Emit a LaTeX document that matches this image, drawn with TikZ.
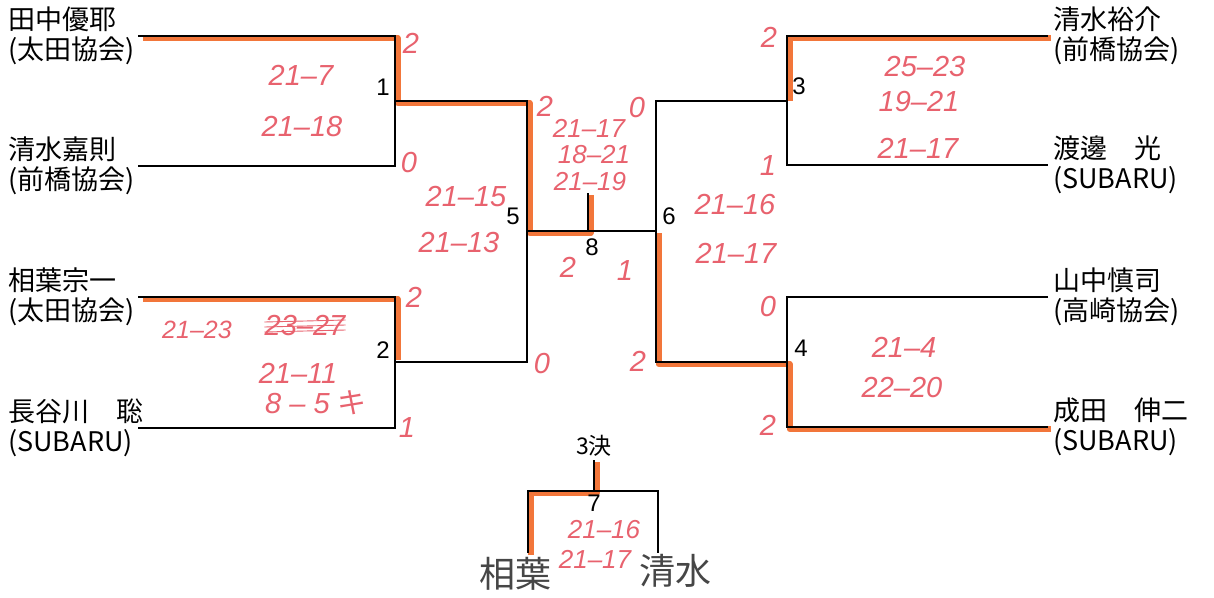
\documentclass[tikz,border=0pt]{standalone}
\usepackage{fontspec}
\setmainfont{Liberation Sans}
\newfontfamily\jpfont{Noto Sans CJK JP}
\newfontfamily\handfont{Liberation Sans}

\definecolor{hlorange}{RGB}{242,118,58}
\definecolor{penred}{RGB}{232,98,110}
\definecolor{pencil}{RGB}{70,70,70}

\tikzset{
  playername/.style={anchor=west, align=left, inner sep=0pt,
    font=\jpfont\fontsize{27}{30}\selectfont},
  matchno/.style={inner sep=0pt, font=\fontsize{24}{24}\selectfont},
  score/.style={inner sep=0pt, text=penred,
    font=\handfont\itshape\fontsize{29}{29}\selectfont},
  bracket/.style={line width=1.4pt, black},
  hilite/.style={line width=6pt, hlorange, line join=round,
    transform canvas={xshift=2.5pt, yshift=-2pt}},
}

\begin{document}
\begin{tikzpicture}[x=1pt, y=-1pt]
  \useasboundingbox[fill=white] (0,0) rectangle (1214,597);

  % Line ends, left half
  \coordinate (a1) at (138,36);  \coordinate (a2) at (138,166);
  \coordinate (a3) at (138,297); \coordinate (a4) at (138,428);
  \coordinate (m1t) at (395,36);  \coordinate (m1b) at (395,166);  \coordinate (m1) at (395,101);
  \coordinate (m2t) at (395,297); \coordinate (m2b) at (395,428);  \coordinate (m2) at (395,362);
  \coordinate (m5t) at (527,101); \coordinate (m5b) at (527,362);  \coordinate (m5) at (527,231);
  % Line ends, right half
  \coordinate (b1) at (1048,36);  \coordinate (b2) at (1048,165);
  \coordinate (b3) at (1048,297); \coordinate (b4) at (1048,427);
  \coordinate (m3t) at (787,36);  \coordinate (m3b) at (787,165);  \coordinate (m3) at (787,101);
  \coordinate (m4t) at (787,297); \coordinate (m4b) at (787,427);  \coordinate (m4) at (787,362);
  \coordinate (m6t) at (656,101); \coordinate (m6b) at (656,362);  \coordinate (m6) at (656,231);
  % Final and third place
  \coordinate (m8) at (588,231);  \coordinate (champ) at (588,193);
  \coordinate (m7) at (594,491);  \coordinate (m7top) at (594,460);
  \coordinate (m7l) at (528,491); \coordinate (m7r) at (658,491);
  \coordinate (m7lb) at (528,553); \coordinate (m7rb) at (658,553);

  % Winner paths (marker pen)
  \draw[hilite] ([xshift=2pt]a1) -- (m1t) -- (m1) -- (m5t) -- (m5) -- (m8) -- (champ);
  \draw[hilite] ([xshift=2pt]a3) -- (m2t) -- ([yshift=4pt]m2);
  \draw[hilite] (b1) -- (m3t) -- ([yshift=2pt]m3);
  \draw[hilite] (b4) -- (m4b) -- (m4) -- (m6b) -- (m6);
  \draw[hilite] (m7lb) -- (m7l) -- (m7) -- (m7top);

  % Bracket lines
  \draw[bracket] (a1) -- (m1t) -- (m1b) -- (a2);
  \draw[bracket] (a3) -- (m2t) -- (m2b) -- (a4);
  \draw[bracket] (m1) -- (m5t) -- (m5b) -- (m2);
  \draw[bracket] (b1) -- (m3t) -- (m3b) -- (b2);
  \draw[bracket] (b3) -- (m4t) -- (m4b) -- (b4);
  \draw[bracket] (m3) -- (m6t) -- (m6b) -- (m4);
  \draw[bracket] (m5) -- (m6);
  \draw[bracket] (m8) -- (champ);
  \draw[bracket] (m7lb) -- (m7l) -- (m7r) -- (m7rb);
  \draw[bracket] (m7) -- (m7top);

  % Players
  \node[playername] (tanaka)   at (8,36)  {田中優耶\\(太田協会)};
  \node[playername] (yoshi)    at (8,166) {清水嘉則\\(前橋協会)};
  \node[playername] (aiba)     at (8,297) {相葉宗一\\(太田協会)};
  \node[playername] (hasegawa) at (8,428) {長谷川　聡\\(SUBARU)};
  \node[playername] (yusuke)   at (1053,36)  {清水裕介\\(前橋協会)};
  \node[playername] (watanabe) at (1053,165) {渡邊　光\\(SUBARU)};
  \node[playername] (yamanaka) at (1053,297) {山中慎司\\(高崎協会)};
  \node[playername] (narita)   at (1053,427) {成田　伸二\\(SUBARU)};

  % Match numbers
  \node[matchno] (n1) at (383,87)  {1};
  \node[matchno] (n2) at (383,350) {2};
  \node[matchno] (n3) at (799,86)  {3};
  \node[matchno] (n4) at (801,348) {4};
  \node[matchno] (n5) at (513,216) {5};
  \node[matchno] (n6) at (669,216) {6};
  \node[matchno] (n7) at (594,503) {7};
  \node[matchno] (n8) at (592,247) {8};
  \node[matchno, font=\jpfont\fontsize{23}{23}\selectfont] (third) at (594,446) {3決};

  % Scores, match 1
  \node[score] (s1w) at (411,43)  {2};
  \node[score] (s1a) at (301,75)  {21–7};
  \node[score] (s1b) at (302,127) {21–18};
  \node[score] (s1l) at (409,163) {0};
  % Scores, match 2
  \node[score] (s2w) at (414,297) {2};
  \node[score, font=\handfont\itshape\fontsize{25}{25}\selectfont] (s2a) at (197,330) {21–23};
  \node[score] (s2x) at (305,326) {23–27};
  \draw[penred, line width=0.9pt] ([yshift=4pt]s2x.west) -- ([yshift=6pt]s2x.east);
  \draw[penred, line width=0.9pt] ([yshift=-1pt]s2x.west) -- ([yshift=1pt]s2x.east);
  \draw[penred, line width=0.9pt] ([yshift=-6pt]s2x.west) -- ([yshift=-4pt]s2x.east);
  \node[score] (s2b) at (298,373) {21–11};
  \node[score] (s2c) at (316,403) {8 – 5 {\jpfont キ}};
  \node[score] (s2l) at (407,428) {1};
  % Scores, match 5
  \node[score] (s5w) at (545,106) {2};
  \node[score] (s5a) at (466,197) {21–15};
  \node[score] (s5b) at (459,243) {21–13};
  \node[score] (s5l) at (542,364) {0};
  % Scores, final
  \node[score] (s8l) at (637,108) {0};
  \node[score, font=\handfont\itshape\fontsize{26}{26}\selectfont] (s8a) at (589,128) {21–17};
  \node[score, font=\handfont\itshape\fontsize{26}{26}\selectfont] (s8b) at (594,155) {18–21};
  \node[score, font=\handfont\itshape\fontsize{26}{26}\selectfont] (s8c) at (590,182) {21–19};
  \node[score] (s8w) at (568,267) {2};
  \node[score] (s8r) at (625,271) {1};
  % Scores, match 6
  \node[score] (s6l) at (768,166) {1};
  \node[score] (s6a) at (735,205) {21–16};
  \node[score] (s6b) at (736,253) {21–17};
  \node[score] (s6z) at (768,307) {0};
  \node[score] (s6w) at (638,361) {2};
  % Scores, match 3
  \node[score] (s3w) at (769,37)  {2};
  \node[score] (s3a) at (925,67)  {25–23};
  \node[score] (s3b) at (919,102) {19–21};
  \node[score] (s3c) at (918,148) {21–17};
  % Scores, match 4
  \node[score] (s4a) at (904,347) {21–4};
  \node[score] (s4b) at (902,388) {22–20};
  \node[score] (s4w) at (768,425) {2};
  % Scores, match 7
  \node[score, font=\handfont\itshape\fontsize{26}{26}\selectfont] (s7a) at (604,530) {21–16};
  \node[score, font=\handfont\itshape\fontsize{26}{26}\selectfont] (s7b) at (595,559) {21–17};

  % Third place names, by pencil
  \node[inner sep=0pt, text=pencil, font=\jpfont\fontsize{36}{36}\selectfont] (aiba7) at (515,574) {相葉};
  \node[inner sep=0pt, text=pencil, font=\jpfont\fontsize{36}{36}\selectfont] (shimizu7) at (675,571) {清水};
\end{tikzpicture}
\end{document}
